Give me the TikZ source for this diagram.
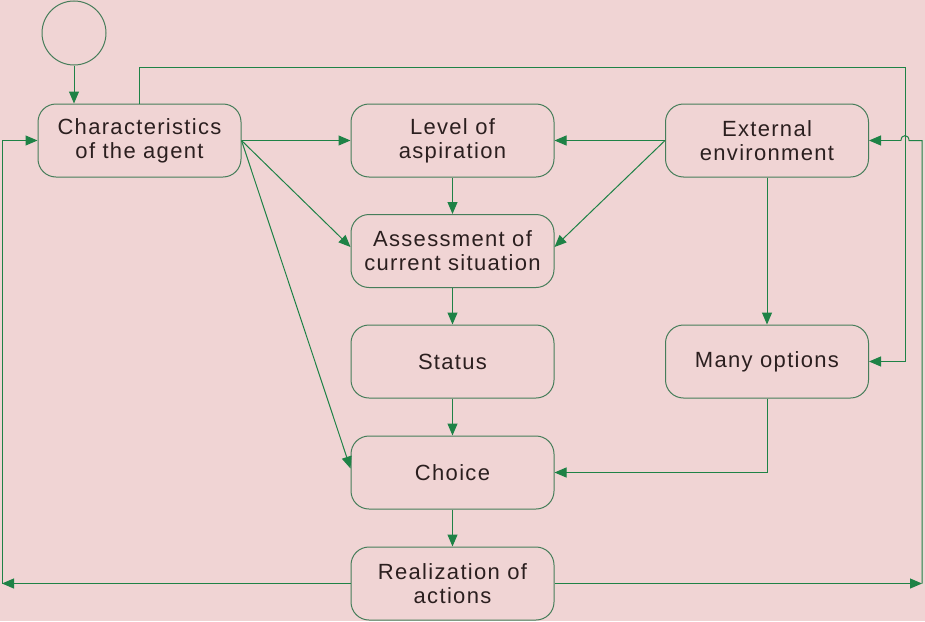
\documentclass[tikz,border=0pt]{standalone}
\usepackage{fontspec}
\setmainfont[LetterSpace=6]{Liberation Sans}
\usetikzlibrary{arrows.meta}
\definecolor{bg}{RGB}{240,212,212}
\definecolor{ln}{RGB}{30,130,70}
\definecolor{bx}{RGB}{70,125,90}
\definecolor{tx}{RGB}{43,31,31}
\tikzset{
  box/.style={draw=bx, line width=1pt, rounded corners=18pt, minimum width=203pt, minimum height=73pt, align=center, text=tx, font=\fontsize{22}{24}\selectfont, inner sep=0pt},
  conn/.style={draw=ln, line width=1pt},
  arr/.style={conn, -{Triangle[length=12pt,width=10pt]}}
}
\begin{document}
\begin{tikzpicture}[x=1pt,y=-1pt]
\useasboundingbox (0,0) rectangle (925,621);
\fill[bg] (0,0) rectangle (925,621);
\node[draw=bx, line width=1pt, circle, minimum size=64pt, inner sep=0pt] (start) at (74,33) {};
\node[box] (char) at (139.5,140.5) {Characteristics\\of the agent};
\node[box] (level) at (452.5,140.5) {Level of\\aspiration};
\node[box] (ext) at (767,140.5) {External\\environment};
\node[box] (assess) at (452.5,251) {Assessment of\\current situation};
\node[box] (status) at (452.5,361.5) {Status};
\node[box] (many) at (767,361.5) {Many options};
\node[box] (choice) at (452.5,472.5) {Choice};
\node[box] (real) at (452.5,583.5) {Realization of\\actions};
\coordinate (tr) at (905,67);
\coordinate (bl) at (2,583.5);
\coordinate (br) at (922,583.5);
\coordinate (brt) at (922,140.5);
\coordinate (hopr) at (909,140.5);
\coordinate (hopl) at (901,140.5);
% connectors
\draw[arr] (start.south) -- (start.south |- char.north);
\draw[arr] (char.east) -- (level.west);
\draw[arr] (ext.west) -- (level.east);
\draw[arr] (level.south) -- (assess.north);
\draw[arr] (char.east) -- ([yshift=4pt]assess.west);
\draw[arr] (char.east) -- ([yshift=4pt]choice.west);
\draw[arr] (ext.west) -- ([yshift=4pt]assess.east);
\draw[arr] (assess.south) -- (status.north);
\draw[arr] (status.south) -- (choice.north);
\draw[arr] (choice.south) -- (real.north);
\draw[arr] (ext.south) -- (many.north);
\draw[arr] (many.south) |- (choice.east);
\draw[arr] (char.north) |- (tr) |- (many.east);
\draw[arr] (real.west) -- (bl);
\draw[arr] (bl) |- (char.west);
\draw[arr] (real.east) -- (br);
\draw[conn] (br) -- (brt) -- (hopr) .. controls (909,134) and (901,134) .. (hopl);
\draw[arr] (hopl) -- (ext.east);
\end{tikzpicture}
\end{document}
